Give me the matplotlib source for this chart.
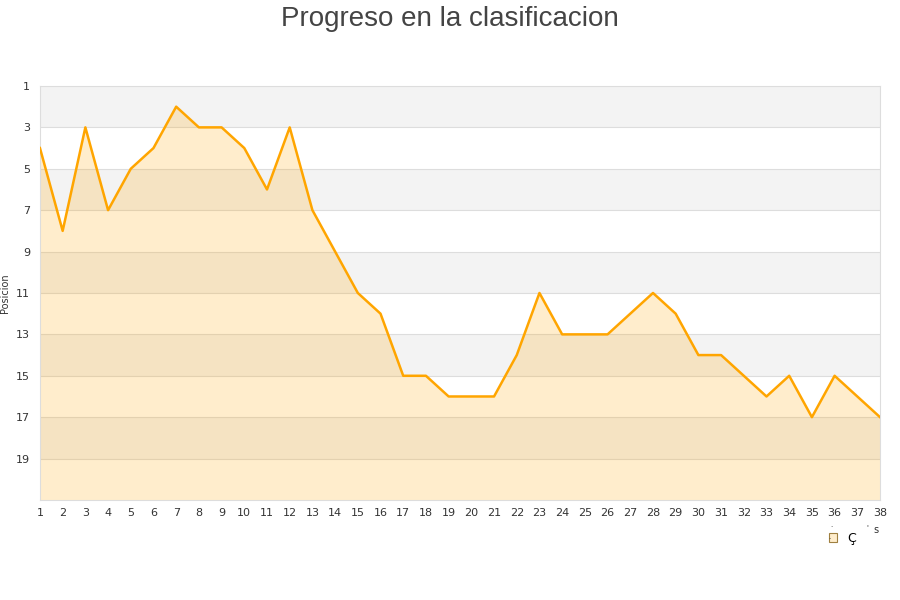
import matplotlib.pyplot as plt
from matplotlib.patches import Patch

jornadas = list(range(1, 39))
posicion = [4, 8, 3, 7, 5, 4, 2, 3, 3, 4, 6, 3, 7, 9, 11, 12, 15, 15, 16, 16,
            16, 14, 11, 13, 13, 13, 12, 11, 12, 14, 14, 15, 16, 15, 17, 15, 16, 17]
y_ticks = [1, 3, 5, 7, 9, 11, 13, 15, 17, 19]
fondo = 21

fig = plt.figure(figsize=(9, 6), dpi=100)
ax = fig.add_axes([0.0444, 0.1667, 0.9334, 0.69])

# franjas grises alternas
for y0 in range(1, fondo, 4):
    ax.axhspan(y0, y0 + 2, color="#f3f3f3", zorder=0, lw=0)
for y in y_ticks[1:]:
    ax.axhline(y, color="#dddddd", lw=0.8, zorder=1)

ax.fill_between(jornadas, posicion, fondo, color="#ffa500", alpha=0.2, lw=0, zorder=2)
ax.plot(jornadas, posicion, color="#ffa500", lw=1.8, zorder=3)

ax.set_xlim(1, 38)
ax.set_ylim(fondo, 1)
ax.set_xticks(jornadas)
ax.set_yticks(y_ticks)
ax.tick_params(length=0, labelsize=8, colors="#333333")
ax.tick_params(axis="x", pad=6)
ax.tick_params(axis="y", pad=7)
for s in ax.spines.values():
    s.set_color("#dddddd")

ax.set_ylabel("Posicion", fontsize=7, color="#333333")
ax.yaxis.set_label_coords(-0.036, 0.5)
fig.suptitle("Progreso en la clasificacion", y=0.99, fontsize=20,
             color="#444444", family="Liberation Sans")

leg = ax.legend(handles=[Patch(facecolor="#ffedcc", edgecolor="#a08040", lw=0.8, label="Ç")],
                loc="upper right", bbox_to_anchor=(0.985, -0.05), frameon=False,
                fontsize=9, handlelength=0.7, handleheight=0.7, handletextpad=0.8)
fig.text(0.97, 0.112, "s", fontsize=7, color="#333333")
fig.text(0.922, 0.118, "·", fontsize=5, color="#333333")
fig.text(0.92, 0.098, "·", fontsize=5, color="#333333")
fig.text(0.963, 0.118, "'", fontsize=5, color="#333333")

fig.savefig("out.png")
